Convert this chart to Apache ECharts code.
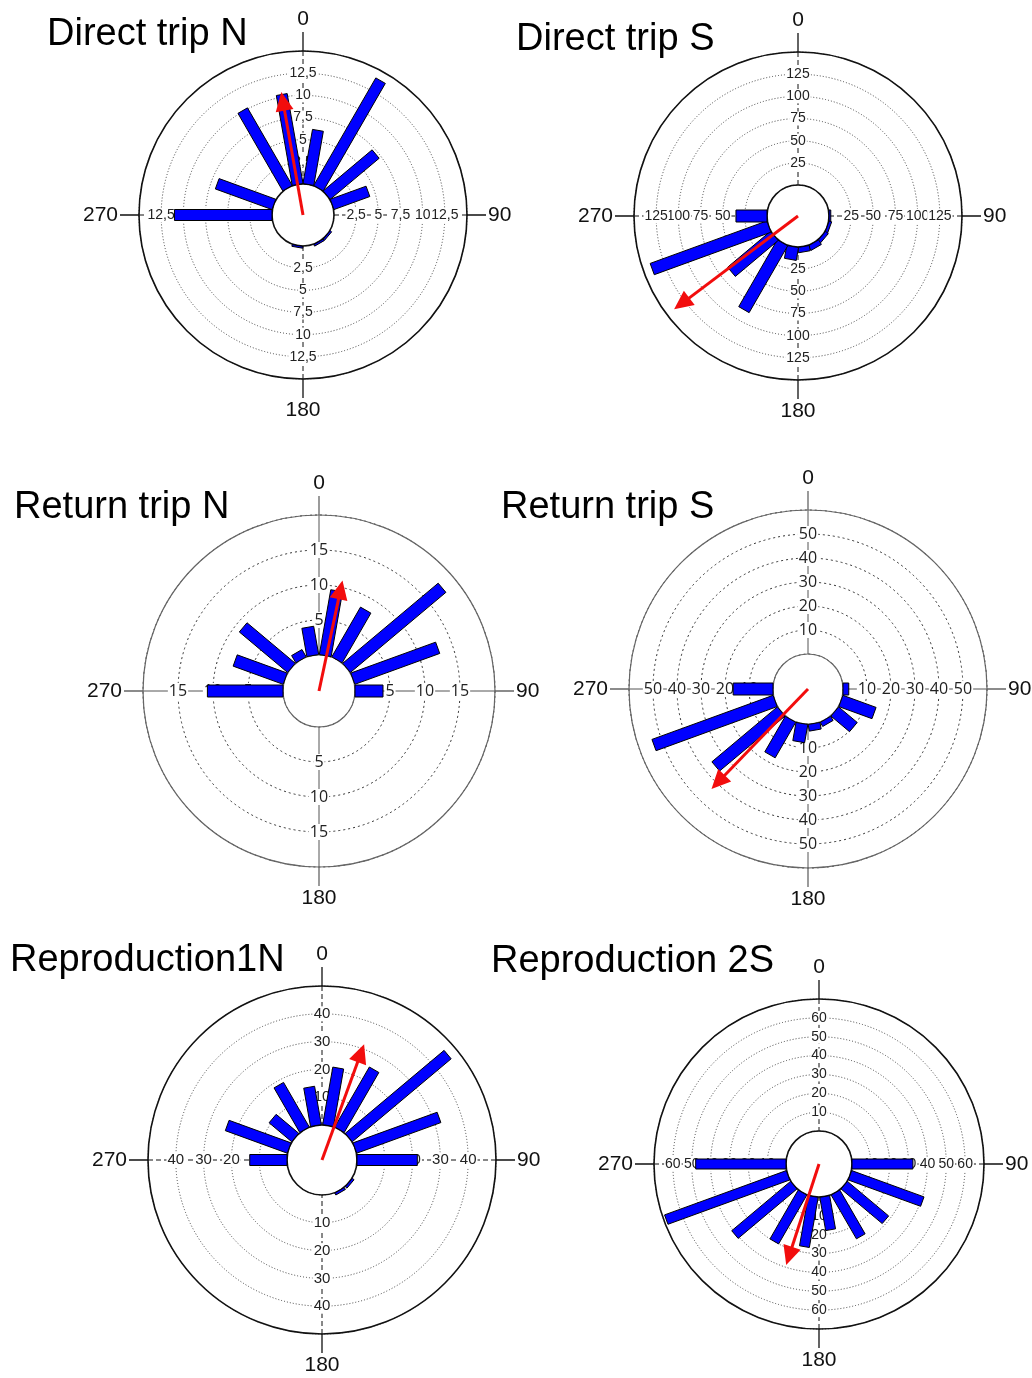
<!DOCTYPE html>
<html>
<head>
<meta charset="utf-8">
<title>Rose diagrams</title>
<script src="https://cdn.jsdelivr.net/npm/echarts@6/dist/echarts.min.js"></script>
<style>
    html, body { margin: 0; padding: 0; background: #fff; }
    #chart { width: 1032px; height: 1378px; }
</style>
</head>
<body>
<div id="chart"></div>
<script>
    // bin centres, degrees clockwise from north
    var binAngles = [10, 30, 50, 70, 90, 110, 130, 150, 170, 190, 210, 230, 250, 270, 290, 310, 330, 350];

    var directTripN    = [6.2, 14, 7.2, 4.3, 0, 0, 0.2, 0.2, 0, 0.2, 0, 0, 0, 11, 6.8, 0, 10.1, 10.3];
    var directTripS    = [0, 0, 0, 0, 2, 3, 4, 6, 6, 14.7, 87, 63, 140, 35, 0, 0, 0, 0];
    var returnTripN    = [9.4, 8.2, 17.8, 12.9, 4, 0, 0, 0, 0, 0, 0, 0, 0, 10.8, 7.6, 9, 1.2, 4.1];
    var returnTripS    = [0, 0, 0, 0, 2.4, 14.7, 10.1, 2, 2.8, 7.7, 17.1, 35.6, 53.7, 16.6, 0, 0, 0, 0];
    var reproduction1N = [21, 24.9, 46.4, 32.2, 21.7, 0, 0.8, 0.8, 0, 0, 0, 0, 0, 13.4, 23.7, 10.6, 18.5, 14];
    var reproduction2S = [0, 0, 0, 0, 32.3, 40.8, 28.5, 26.8, 17.9, 27, 29.9, 40.7, 68.7, 47.9, 0, 0, 0, 0];

    // mean vector (red arrow)
    var meanAngle  = [350, 233, 12, 224, 20, 198];
    var meanLength = [10.6, 140, 11, 43.3, 31.7, 38.8];

    var panelTitles = ['Direct trip N', 'Direct trip S', 'Return trip N', 'Return trip S', 'Reproduction1N', 'Reproduction 2S'];
    var radialStep  = [2.5, 25, 5, 10, 10, 10];
    var radialMax   = [15, 150, 20, 60, 50, 70];
    var decimalComma = [true, false, false, false, false, false];

    var panels = [directTripN, directTripS, returnTripN, returnTripS, reproduction1N, reproduction2S];

    // where each rose sits on the page
    var layout = [
        { cx: 303, cy: 215, hole: 31, outer: 164, tx: 47,  ty: 16,  font: 14, bar: 11, look: 'a' },
        { cx: 798, cy: 216, hole: 31, outer: 164, tx: 516, ty: 21,  font: 14, bar: 12, look: 'a' },
        { cx: 319, cy: 691, hole: 36, outer: 176, tx: 14,  ty: 489, font: 16, bar: 12, look: 'b' },
        { cx: 808, cy: 689, hole: 35, outer: 179, tx: 501, ty: 489, font: 16, bar: 12, look: 'b' },
        { cx: 322, cy: 1160, hole: 35, outer: 174, tx: 10, ty: 942, font: 15, bar: 11, look: 'a' },
        { cx: 819, cy: 1164, hole: 33, outer: 165, tx: 491, ty: 943, font: 14, bar: 10, look: 'a' }
    ];

    var looks = {
        a: { frame: '#111', frameWidth: 1.6, cross: '#111', crossType: [5, 3], ring: '#444', ringType: [1, 2], font: 'Liberation Sans' },
        b: { frame: '#666', frameWidth: 1.2, cross: '#555', crossType: 'solid', ring: '#333', ringType: [2, 3], font: 'Open Sans' }
    };

    function barRenderer(width) {
        var hw = width / 2;
        return function (params, api) {
            var v = api.value(0), a = api.value(1);
            if (!(v > 0)) return null;
            var p0 = api.coord([0, a]);
            var p1 = api.coord([v, a]);
            var dx = p1[0] - p0[0], dy = p1[1] - p0[1];
            var len = Math.sqrt(dx * dx + dy * dy);
            var nx = -dy / len * hw, ny = dx / len * hw;
            return {
                type: 'polygon',
                shape: { points: [
                    [p0[0] + nx, p0[1] + ny], [p1[0] + nx, p1[1] + ny],
                    [p1[0] - nx, p1[1] - ny], [p0[0] - nx, p0[1] - ny]
                ] },
                style: { fill: '#0000ff', stroke: '#000', lineWidth: 1 }
            };
        };
    }

    function arrowRenderer(params, api) {
        var cs = params.coordSys;
        var tip = api.coord([api.value(0), api.value(1)]);
        var dx = tip[0] - cs.cx, dy = tip[1] - cs.cy;
        var len = Math.sqrt(dx * dx + dy * dy);
        var ux = dx / len, uy = dy / len;
        var head = 19, hw = 9;
        var bx = tip[0] - ux * head, by = tip[1] - uy * head;
        return {
            type: 'group',
            children: [
                { type: 'line', shape: { x1: cs.cx, y1: cs.cy, x2: bx + ux * 2, y2: by + uy * 2 },
                  style: { stroke: '#f20d0d', lineWidth: 3 } },
                { type: 'polygon', shape: { points: [tip, [bx - uy * hw, by + ux * hw], [bx + uy * hw, by - ux * hw]] },
                  style: { fill: '#f20d0d' } }
            ]
        };
    }

    var polar = [], angleAxis = [], radiusAxis = [], series = [], title = [];
    // base polar draws the frame and rings; the other four only carry the radial labels
    var labelDirs = [null, 90, 0, 270, 180];

    panels.forEach(function (vals, k) {
        var L = layout[k], st = looks[L.look];
        var base = polar.length;
        var maxV = radialMax[k];

        labelDirs.forEach(function (dir, j) {
            var isBase = j === 0;
            polar.push({ center: [L.cx, L.cy], radius: [L.hole, L.outer] });
            angleAxis.push({
                polarIndex: base + j,
                type: 'value', min: 0, max: 360, interval: 90,
                startAngle: isBase ? 90 : dir, clockwise: true,
                show: isBase,
                axisLine: { show: true, lineStyle: { color: st.frame, width: st.frameWidth } },
                axisTick: { show: true, inside: false, length: 19, lineStyle: { color: st.frame, width: 1.3 } },
                axisLabel: {
                    margin: 21, fontSize: 21, color: '#111', fontFamily: 'Liberation Sans',
                    formatter: function (v) { return v === 360 ? '' : String(v); }
                },
                splitLine: { show: true, lineStyle: { color: st.cross, type: st.crossType, width: 1 } },
                z: 0
            });
            radiusAxis.push({
                polarIndex: base + j,
                type: 'value', min: 0, max: maxV, interval: radialStep[k],
                axisLine: { show: false },
                axisTick: { show: false },
                splitLine: { show: isBase, lineStyle: { color: st.ring, type: st.ringType, width: 1 } },
                axisLabel: {
                    show: !isBase, margin: 0, align: 'center', verticalAlign: 'middle',
                    fontSize: L.font, fontFamily: st.font, color: '#222',
                    backgroundColor: '#fff', padding: [0, 1],
                    formatter: function (v) {
                        if (v <= 0 || v >= maxV) return '';
                        var s = String(v);
                        return decimalComma[k] ? s.replace('.', ',') : s;
                    }
                },
                z: isBase ? 0 : 1
            });
        });

        // bars and arrow sit on their own layer, above every axis label
        series.push({
            type: 'custom',
            coordinateSystem: 'polar',
            polarIndex: base,
            silent: true,
            zlevel: 1,
            z: 2,
            renderItem: barRenderer(L.bar),
            data: binAngles.map(function (a, i) { return [vals[i], a]; })
        });
        series.push({
            type: 'custom',
            coordinateSystem: 'polar',
            polarIndex: base,
            silent: true,
            zlevel: 1,
            z: 3,
            renderItem: arrowRenderer,
            data: [[meanLength[k], meanAngle[k]]]
        });

        title.push({
            text: panelTitles[k],
            left: L.tx, top: L.ty, padding: 0,
            textStyle: { fontSize: 38, fontWeight: 'normal', fontFamily: 'Liberation Sans', color: '#000' }
        });
    });

    var chart = echarts.init(document.getElementById('chart'));
    chart.setOption({
        animation: false,
        backgroundColor: '#fff',
        title: title,
        polar: polar,
        angleAxis: angleAxis,
        radiusAxis: radiusAxis,
        series: series
    });
</script>
</body>
</html>
